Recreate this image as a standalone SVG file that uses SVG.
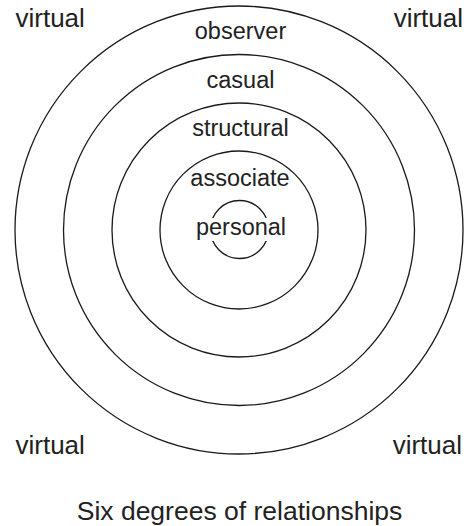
<svg xmlns="http://www.w3.org/2000/svg" width="464" height="526" viewBox="0 0 464 526">
<style>
.ring{fill:none;stroke:#1a1a1a;stroke-width:1.3}
.lbl{font-family:"Liberation Sans",Arial,sans-serif;font-size:23.5px;fill:#222;text-anchor:middle}
.corner{font-family:"Liberation Sans",Arial,sans-serif;font-size:26px;fill:#222}
.title{font-family:"Liberation Sans",Arial,sans-serif;font-size:26.5px;fill:#222;text-anchor:middle}
</style>
<rect width="464" height="526" fill="#fff"/>
<g id="observer">
<circle class="ring" cx="239" cy="230" r="224"/>
<text class="lbl" x="240.5" y="39">observer</text>
</g>
<g id="casual">
<circle class="ring" cx="239" cy="230" r="175.5"/>
<text class="lbl" x="240.5" y="87.5">casual</text>
</g>
<g id="structural">
<circle class="ring" cx="239" cy="230" r="127"/>
<text class="lbl" x="240.5" y="136">structural</text>
</g>
<g id="associate">
<circle class="ring" cx="239" cy="230" r="79"/>
<text class="lbl" x="240" y="186">associate</text>
</g>
<g id="personal">
<circle class="ring" cx="239.5" cy="229.5" r="29"/>
<rect x="197" y="218" width="90" height="23" fill="#fff"/>
<text class="lbl" x="241" y="234.5">personal</text>
</g>
<g id="virtual">
<text class="corner" x="15.5" y="27">virtual</text>
<text class="corner" x="463" y="27" text-anchor="end">virtual</text>
<text class="corner" x="15.5" y="454">virtual</text>
<text class="corner" x="462" y="454" text-anchor="end">virtual</text>
</g>
<text class="title" x="239.5" y="520">Six degrees of relationships</text>
</svg>
